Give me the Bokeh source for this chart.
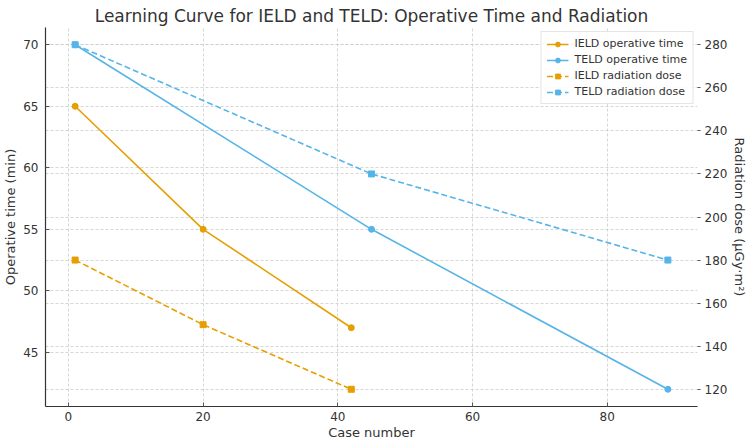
from bokeh.plotting import figure
from bokeh.models import Range1d, LinearAxis, Grid, SingleIntervalTicker, Legend, LegendItem, Title
from bokeh.embed import file_html
from bokeh.resources import INLINE

ield_cases = [1, 20, 42]
ield_time = [65, 55, 47]
ield_dose = [180, 150, 120]
teld_cases = [1, 45, 89]
teld_time = [70, 55, 42]
teld_dose = [280, 220, 180]

ORANGE = "#E69F00"
BLUE = "#56B4E9"
FONT = "DejaVu Sans"

p = figure(width=750, height=447, output_backend="svg", toolbar_location=None,
           x_range=Range1d(-3.4, 93.4), y_range=Range1d(40.6, 71.4),
           min_border_left=0, min_border_right=53, min_border_top=27, min_border_bottom=41)
p.title = Title(text="Learning Curve for IELD and TELD: Operative Time and Radiation",
                align="center", text_font=FONT, text_font_size="17px",
                text_font_style="normal", text_color="#333333", standoff=3, offset=0)
p.outline_line_color = None
p.background_fill_color = "white"
p.border_fill_color = "white"

p.extra_y_ranges = {"dose": Range1d(112, 288)}

# axes
p.xaxis.ticker = SingleIntervalTicker(interval=20)
p.yaxis.ticker = SingleIntervalTicker(interval=5)
for ax in [p.xaxis[0], p.yaxis[0]]:
    ax.axis_line_color = "#333333"
    ax.axis_line_width = 1.2
    ax.major_tick_in = 4
    ax.major_tick_out = 0
    ax.minor_tick_line_color = None
    ax.major_tick_line_color = "#555555"
    ax.major_label_text_font = FONT
    ax.major_label_text_font_size = "12px"
    ax.major_label_text_color = "#333333"
    ax.major_label_standoff = 3
    ax.axis_label_text_font = FONT
    ax.axis_label_text_font_size = "13px"
    ax.axis_label_text_font_style = "normal"
    ax.axis_label_text_color = "#333333"
p.xaxis.axis_label = "Case number"
p.yaxis.axis_label = "Operative time (min)"
p.xaxis.major_label_standoff = 1
p.xaxis.axis_label_standoff = 1
p.yaxis.axis_label_standoff = 2

right = LinearAxis(y_range_name="dose", axis_label="Radiation dose (μGy·m²)",
                   ticker=SingleIntervalTicker(interval=20))
right.axis_line_color = None
right.major_tick_in = 0
right.major_tick_out = 3
right.minor_tick_line_color = None
right.major_tick_line_color = "#555555"
right.major_label_text_font = FONT
right.major_label_text_font_size = "12px"
right.major_label_text_color = "#333333"
right.major_label_standoff = 3
right.axis_label_text_font = FONT
right.axis_label_text_font_size = "13px"
right.axis_label_text_font_style = "normal"
right.axis_label_text_color = "#333333"
right.axis_label_standoff = 2
p.add_layout(right, "right")

for g in [p.xgrid[0], p.ygrid[0]]:
    g.grid_line_color = "#cccccc"
    g.grid_line_dash = "3 2"
    g.grid_line_width = 0.8
g2 = Grid(dimension=1, ticker=right.ticker, y_range_name="dose",
          grid_line_color="#cccccc", grid_line_dash="3 2", grid_line_width=0.8)
p.add_layout(g2)

r1l = p.line(ield_cases, ield_time, line_color=ORANGE, line_width=1.6)
r1m = p.scatter(ield_cases, ield_time, marker="circle", size=6, color=ORANGE)
r2l = p.line(teld_cases, teld_time, line_color=BLUE, line_width=1.6)
r2m = p.scatter(teld_cases, teld_time, marker="circle", size=6, color=BLUE)
r3l = p.line(ield_cases, ield_dose, line_color=ORANGE, line_width=1.6, line_dash="6 3", y_range_name="dose")
r3m = p.scatter(ield_cases, ield_dose, marker="square", size=6, color=ORANGE, y_range_name="dose")
r4l = p.line(teld_cases, teld_dose, line_color=BLUE, line_width=1.6, line_dash="6 3", y_range_name="dose")
r4m = p.scatter(teld_cases, teld_dose, marker="square", size=6, color=BLUE, y_range_name="dose")

legend = Legend(items=[
    LegendItem(label="IELD operative time", renderers=[r1l, r1m]),
    LegendItem(label="TELD operative time", renderers=[r2l, r2m]),
    LegendItem(label="IELD radiation dose", renderers=[r3l, r3m]),
    LegendItem(label="TELD radiation dose", renderers=[r4l, r4m]),
], location="top_right")
legend.label_text_font = FONT
legend.label_text_font_size = "11px"
legend.label_text_color = "#333333"
legend.border_line_color = "#cccccc"
legend.background_fill_alpha = 0.9
legend.glyph_width = 22
legend.glyph_height = 12
legend.label_height = 12
legend.spacing = 3
legend.padding = 5
legend.margin = 4
legend.label_standoff = 6
p.add_layout(legend)

open("out.html", "w").write(file_html(p, INLINE))
